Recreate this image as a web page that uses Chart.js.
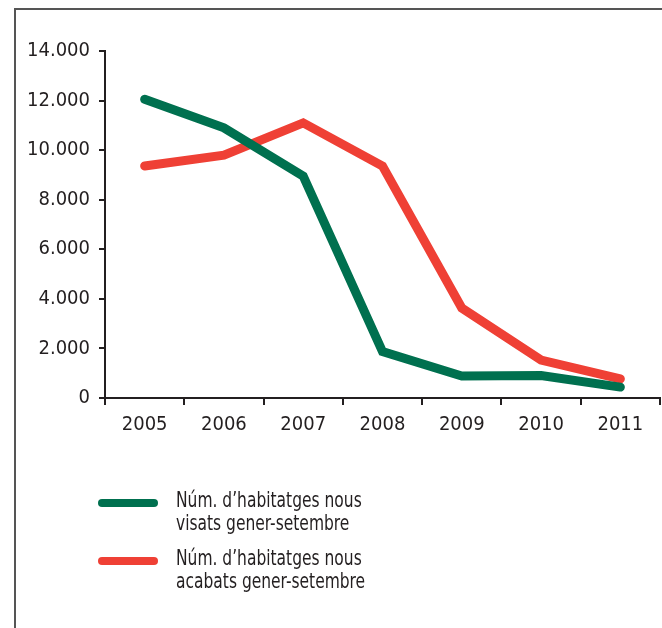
<!DOCTYPE html>
<html>
<head>
<meta charset="utf-8">
<script src="https://cdn.jsdelivr.net/npm/chart.js@4/dist/chart.umd.min.js"></script>
<style>
  html, body { margin: 0; padding: 0; background: #fff; }
  #wrap { position: relative; width: 662px; height: 628px; overflow: hidden; }
  #frame { position: absolute; left: 14px; top: 8px; right: -4px; bottom: -4px;
           border-left: 2px solid #555; border-top: 2px solid #555; }
  canvas { position: absolute; left: 0; top: 0; }
  #legend { position: absolute; left: 98px; top: 489px;
            font-family: "Liberation Sans Narrow", "DejaVu Sans Condensed", sans-serif;
            font-size: 21px; color: #231f20; line-height: 23px; }
  .item { display: flex; align-items: flex-start; margin-bottom: 12px; }
  .swatch { width: 60px; height: 8px; border-radius: 4px; margin-top: 10px; margin-right: 18px; flex: none; }
  .txt { transform: scaleX(0.82); transform-origin: left top; white-space: nowrap; }
</style>
</head>
<body>
<div id="wrap">
  <div id="frame"></div>
  <canvas id="chart" width="662" height="628"></canvas>
  <div id="legend"></div>
</div>
<script>
const years = ['2005', '2006', '2007', '2008', '2009', '2010', '2011'];
const visats = [12050, 10900, 8950, 1870, 890, 910, 440];
const acabats = [9360, 9800, 11100, 9360, 3630, 1530, 770];
const seriesNames = [
  ['Núm. d’habitatges nous', 'visats gener-setembre'],
  ['Núm. d’habitatges nous', 'acabats gener-setembre']
];
const yTicks = [0, 2000, 4000, 6000, 8000, 10000, 12000, 14000];

const green = '#00704f';
const red = '#ef4035';
const ink = '#231f20';
const font = { family: '"Liberation Sans Narrow", "DejaVu Sans Condensed", sans-serif', size: 20 };

const ctx = document.getElementById('chart').getContext('2d');
const chart = new Chart(ctx, {
  type: 'line',
  data: {
    labels: years,
    datasets: [
      { label: seriesNames[0].join(' '), data: visats, borderColor: green, borderWidth: 9,
        pointRadius: 0, tension: 0, borderCapStyle: 'round', borderJoinStyle: 'miter' },
      { label: seriesNames[1].join(' '), data: acabats, borderColor: red, borderWidth: 9,
        pointRadius: 0, tension: 0, borderCapStyle: 'round', borderJoinStyle: 'miter' }
    ]
  },
  options: {
    responsive: false,
    animation: false,
    layout: { padding: { top: 51, right: 2, bottom: 190, left: 0 } },
    plugins: { legend: { display: false }, tooltip: { enabled: false } },
    scales: {
      x: {
        offset: true,
        grid: { offset: true, drawOnChartArea: false, drawTicks: true, tickLength: 7, color: ink, lineWidth: 2 },
        border: { display: true, color: ink, width: 2 },
        ticks: { color: ink, font: font, padding: 8, maxRotation: 0 },
        afterFit: function (scale) { scale.height = 40; }
      },
      y: {
        min: 0,
        max: 14000,
        afterBuildTicks: function (scale) { scale.ticks = yTicks.map(v => ({ value: v })); },
        grid: { drawOnChartArea: false, drawTicks: true, tickLength: 6, color: ink, lineWidth: 2 },
        border: { display: true, color: ink, width: 2 },
        ticks: {
          color: ink, font: font, padding: 9,
          callback: v => v.toString().replace(/\B(?=(\d{3})+(?!\d))/g, '.')
        },
        afterFit: function (scale) { scale.width = 105; }
      }
    }
  }
});

// HTML legend with two-line labels
const legend = document.getElementById('legend');
chart.data.datasets.forEach((ds, i) => {
  const item = document.createElement('div');
  item.className = 'item';
  const sw = document.createElement('div');
  sw.className = 'swatch';
  sw.style.background = ds.borderColor;
  const txt = document.createElement('div');
  txt.className = 'txt';
  txt.innerHTML = seriesNames[i].join('<br>');
  item.appendChild(sw);
  item.appendChild(txt);
  legend.appendChild(item);
});
</script>
</body>
</html>
